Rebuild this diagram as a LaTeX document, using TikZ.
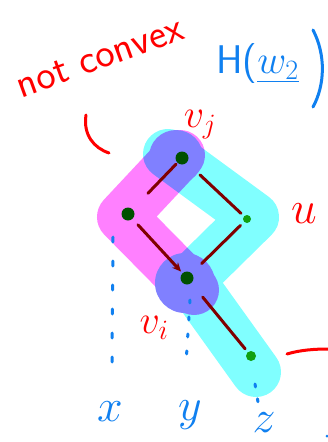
\RequirePackage{fix-cm}
\documentclass[tikz,border=0pt]{standalone}
\usetikzlibrary{arrows.meta}
\definecolor{bandc}{HTML}{80FFFF}
\definecolor{bandm}{HTML}{FF80FF}
\definecolor{mixp}{HTML}{8080FF}
\definecolor{inkr}{HTML}{FF0000}
\definecolor{inkb}{HTML}{1080F0}
\definecolor{edgec}{HTML}{800000}
\definecolor{vdark}{HTML}{005000}
\definecolor{vlight}{HTML}{10A010}
\begin{document}
\begin{tikzpicture}[x=1pt,y=-1pt,
  vtx/.style={circle,fill=vdark,inner sep=0pt,minimum size=13pt},
  vtxg/.style={circle,fill=vlight,inner sep=0pt,minimum size=10pt},
  edg/.style={edgec,line width=3pt,line cap=round},
  bluedash/.style={inkb,line width=3pt,line cap=round,dash pattern=on 5pt off 19pt},
  redtxt/.style={text=inkr,inner sep=0pt},
  bluetxt/.style={text=inkb,inner sep=0pt},
  bandline/.style={line width=50pt,line cap=round,line join=round},
  pen/.style={line width=3pt,line cap=round,line join=round}]
\useasboundingbox (0,0) rectangle (328,442);
\fill[white] (0,0) rectangle (328,442);
% bands (overlap multiplies to purple)
\begin{scope}[blend group=multiply]
\draw[bandc,bandline] (168,154) -- (254,217) -- (190,280) -- (256,372);
\draw[bandm,bandline] (180,155) -- (122,217) -- (194,290);
\end{scope}
\fill[mixp] (176,157) circle (27pt);
\fill[mixp] (185,283) circle (30pt);
% vertices
\node[vtx] (T) at (182,158) {};
\node[vtx] (L) at (128,214) {};
\node[vtxg,minimum size=8pt] (U) at (247,219) {};
\node[vtx] (B) at (187,278) {};
\node[vtxg] (R) at (251,356) {};
% edges
\draw[edg,shorten <=22pt,shorten >=2pt] (L) -- (T);
\draw[edg,shorten <=18pt,shorten >=4pt] (T) -- (U);
\draw[edg,shorten <=5pt,shorten >=14pt] (U) -- (B);
\draw[edg,shorten <=8pt,shorten >=2pt,-{Stealth[length=9pt,width=8pt]}] (L) -- (B);
\draw[edg,shorten <=18pt,shorten >=4pt] (B) -- (R);
% blue dotted verticals
\draw[bluedash] (113,237) -- (112,364);
\draw[bluedash,dash pattern=on 3pt off 14pt] (190,300) -- (186,364);
\draw[bluedash,dash pattern=on 3pt off 12pt] (255,384) -- (258,402);
\node[bluetxt,font=\fontsize{46}{46}\selectfont] (x) at (110,412) {$x$};
\node[bluetxt,font=\fontsize{46}{46}\selectfont] (y) at (190,415) {$y$};
\node[bluetxt,font=\fontsize{46}{46}\selectfont] (z) at (264,423) {$z$};
% red labels
\node[redtxt,rotate=20,font=\sffamily\fontsize{41}{41}\selectfont] (nc) at (100,58) {not convex};
\node[redtxt,font=\fontsize{40}{40}\selectfont] (vj) at (200,125) {$v_{j}$};
\node[redtxt,font=\fontsize{46}{46}\selectfont] (u) at (304,214) {$u$};
\node[redtxt,font=\fontsize{40}{40}\selectfont] (vi) at (154,328) {$v_{i}$};
\draw[inkr,pen] (86,115) .. controls (83,135) and (94,148) .. (109,153);
\draw[inkr,pen] (287,354) .. controls (300,350) and (315,349) .. (328,349);
% blue H(w_2)
\node[bluetxt,font=\sffamily\fontsize{40}{40}\selectfont,anchor=west] (H) at (216,64) {H($\underline{w_2}$};
\draw[inkb,pen] (313,30) .. controls (326,55) and (325,85) .. (313,107);
\fill[inkb] (327,436) circle (1.5pt);
\end{tikzpicture}
\end{document}
